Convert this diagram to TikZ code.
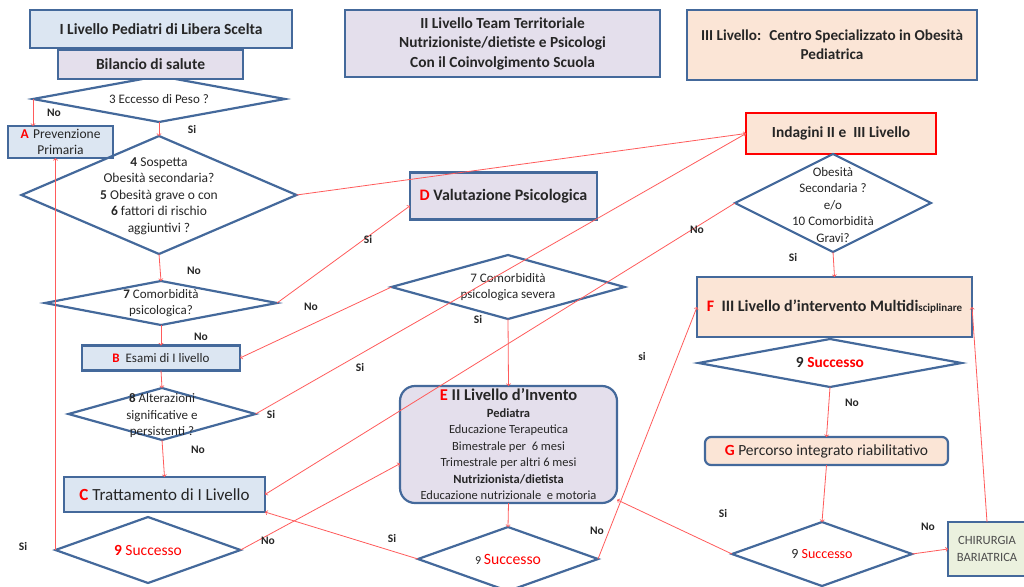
\documentclass[tikz,border=0pt]{standalone}
\usepackage{fontspec}
\setmainfont{Carlito}
\usetikzlibrary{shapes.geometric}
\definecolor{bordo}{HTML}{44699B}
\definecolor{azz}{HTML}{DCE6F2}
\definecolor{lilla}{HTML}{E4DFEC}
\definecolor{pesca}{HTML}{FBE5D6}
\definecolor{verde}{HTML}{EBF1DE}
\definecolor{freccia}{HTML}{FF5B5B}
\definecolor{rosso}{HTML}{FF0000}
\newcommand{\lett}[1]{\textbf{\textcolor{rosso}{#1}}}
\newcommand{\fs}[2]{\fontsize{#1}{#2}\selectfont}

\begin{document}
\begin{tikzpicture}[x=1pt, y=-1pt, text=black!85]
\useasboundingbox (0,0) rectangle (1024,586);
\tikzset{every node/.style={inner sep=0pt, outer sep=0pt}}
\tikzset{box/.style={draw=bordo, line width=2.2pt, align=center, font=\fs{13.5}{16.5}}}
\tikzset{dia/.style={diamond, draw=bordo, line width=2.2pt}}
\tikzset{dtxt/.style={align=center, font=\fs{13}{16.5}}}
\tikzset{lbl/.style={font=\bfseries\fs{11.5}{13}}}

% colonna I livello
\node[box, fill=azz, minimum width=262, minimum height=38, font=\bfseries\fs{15.5}{18}] (t1) at (161,29) {I Livello Pediatri di Libera Scelta};
\node[dia, minimum width=252, minimum height=46] (q3) at (159,99) {};
\node[dtxt] (q3t) at (q3) {3 Eccesso di Peso ?};
\node[box, fill=lilla, minimum width=185, minimum height=29, font=\bfseries\fs{15.5}{18}] (bil) at (150.5,64.5) {Bilancio di salute};
\node[box, fill=azz, minimum width=105, minimum height=32, text width=100] (A) at (60.5,142) {\lett{A} Prevenzione\\Primaria};
\node[dia, minimum width=275, minimum height=118] (q4) at (159,195) {};
\node[dtxt, font=\fs{13.5}{16.5}] (q4t) at (159,196) {\textbf{4} Sospetta\\Obesità secondaria?\\\textbf{5} Obesità grave o con\\\textbf{6} fattori di rischio\\aggiuntivi ?};
\node[dia, minimum width=232, minimum height=44] (q7) at (161,303) {};
\node[dtxt] (q7t) at (q7) {\textbf{7} Comorbidità\\psicologica?};
\node[box, fill=azz, minimum width=158, minimum height=25, font=\fs{13}{15}] (B) at (161,358) {\lett{B}\ \ Esami di I livello};
\node[dia, minimum width=187, minimum height=52] (q8) at (162,414) {};
\node[dtxt] (q8t) at (162,416) {\textbf{8} Alterazioni\\significative e\\persistenti ?};
\node[box, fill=azz, minimum width=201, minimum height=35, font=\fs{17}{19}] (C) at (164.5,494.5) {\lett{C} Trattamento di I Livello};
\node[dia, minimum width=185, minimum height=66] (s1) at (148,550) {};
\node[dtxt, font=\fs{15.5}{18}] (s1t) at (s1) {\textcolor{rosso}{\textbf{9} Successo}};

% colonna II livello
\node[box, fill=lilla, minimum width=315, minimum height=67, font=\bfseries\fs{15.4}{19.5}] (t2) at (502.5,43.5) {II Livello Team Territoriale\\Nutrizioniste/dietiste e Psicologi\\Con il Coinvolgimento Scuola};
\node[box, fill=lilla, minimum width=187, minimum height=47, font=\fs{16}{18}] (D) at (503.5,196) {\lett{D} \textbf{Valutazione Psicologica}};
\node[dia, minimum width=233, minimum height=64] (q7s) at (508,287) {};
\node[dtxt] (q7st) at (q7s) {7 Comorbidità\\psicologica severa};
\node[box, fill=lilla, minimum width=217, minimum height=117, rounded corners=15pt, font=\fs{12.5}{16.5}] (E) at (508.5,444.5) {\fs{16.5}{16.5}\lett{E} \textbf{II Livello d’Invento}\\\textbf{Pediatra}\\Educazione Terapeutica\\Bimestrale per \ 6 mesi\\Trimestrale per altri 6 mesi\\\textbf{Nutrizionista/dietista}\\Educazione nutrizionale \ e motoria};
\node[dia, minimum width=180, minimum height=64] (s2) at (508,559) {};
\node[dtxt, font=\fs{12}{16}] (s2t) at (s2) {9 {\fs{15.7}{18}\textcolor{rosso}{Successo}}};

% colonna III livello
\node[box, fill=pesca, minimum width=290, minimum height=70, font=\bfseries\fs{15.2}{19}] (t3) at (832,45) {III Livello: \ Centro Specializzato in Obesità\\Pediatrica};
\node[box, draw=rosso, fill=pesca, minimum width=190, minimum height=41, font=\bfseries\fs{15.4}{18}] (ind) at (841,133.5) {Indagini II e \ III Livello};
\node[dia, minimum width=196, minimum height=98] (q10) at (833,203) {};
\node[dtxt] (q10t) at (833,205) {Obesità\\Secondaria ?\\e/o\\10 Comorbidità\\Gravi?};
\node[box, fill=pesca, minimum width=275, minimum height=60, font=\bfseries\fs{16}{18}] (F) at (834.5,307) {\textcolor{rosso}{F}\ \ III Livello d’intervento Multidi{\fs{11}{13}sciplinare}};
\node[dia, minimum width=263, minimum height=48] (s3) at (830,363) {};
\node[dtxt, font=\bfseries\fs{15.4}{18}] (s3t) at (s3) {9 \textcolor{rosso}{Successo}};
\node[box, fill=pesca, minimum width=243, minimum height=28, rounded corners=6pt, font=\fs{15.5}{18}] (G) at (826.5,451) {\lett{G}\ Percorso integrato riabilitativo};
\node[dia, minimum width=180, minimum height=64] (s4) at (822,554) {};
\node[dtxt, font=\fs{14}{16}] (s4t) at (s4) {9 \textcolor{rosso}{Successo}};
\node[box, fill=verde, minimum width=78, minimum height=54, font=\fs{12.6}{17}, text=black!70] (ch) at (987,549) {CHIRURGIA\\BARIATRICA};

\tikzset{fl/.style={->, draw=freccia, line width=0.8pt}}
\path (q3.west) edge [fl] (q3.west |- A.north);
\path (q3.south) edge [fl] (q4.north);
\path (q4.south) edge [fl] (q7.north);
\path (q7.south) edge [fl] (B.north);
\path (B.south) edge [fl] (q8.north);
\path (q8.south) edge [fl] (C.north);
\path (s1.west) edge [fl] (s1.west |- A.south);
\path (q4.east) edge [fl] (ind.west);
\path (q8.east) edge [fl] (ind.west);
\path (q7.east) edge [fl] (D.186);
\path (q7s.west) edge [fl] (B.east);
\path (q7s.south) edge [fl] (E.north);
\path (q10.west) edge [fl] (C.east);
\path (s1.east) edge [fl] (E.190);
\path (E.south) edge [fl] (s2.north);
\path (s2.west) edge [fl] (C.south east);
\path (s2.east) edge [fl] (F.west);
\path (s4.west) edge [fl] (E.-27);
\path (q10.south) edge [fl] (F.north);
\path (s3.south) edge [fl] (G.north);
\path (G.south) edge [fl] (s4.north);
\path (s4.east) edge [fl] (ch.west);
\path (ch.north) edge [fl] (F.east);

% etichette Si / No
\node[lbl] (l1) at (54,113) {No};
\node[lbl] (l2) at (192,130) {Si};
\node[lbl] (l3) at (194,271) {No};
\node[lbl] (l4) at (201,337) {No};
\node[lbl] (l5) at (271,414) {Si};
\node[lbl] (l6) at (198,450) {No};
\node[lbl] (l7) at (23,546) {Si};
\node[lbl] (l8) at (268,541) {No};
\node[lbl] (l9) at (368,240) {Si};
\node[lbl] (l10) at (311,307) {No};
\node[lbl] (l11) at (478,319) {Si};
\node[lbl] (l12) at (360,367) {Si};
\node[lbl] (l13) at (697,230) {No};
\node[lbl] (l14) at (793,258) {Si};
\node[lbl] (l15) at (642,357) {si};
\node[lbl] (l16) at (597,531) {No};
\node[lbl] (l17) at (392,538) {Si};
\node[lbl] (l18) at (852,403) {No};
\node[lbl] (l19) at (723,513) {Si};
\node[lbl] (l20) at (928,527) {No};
\end{tikzpicture}
\end{document}
